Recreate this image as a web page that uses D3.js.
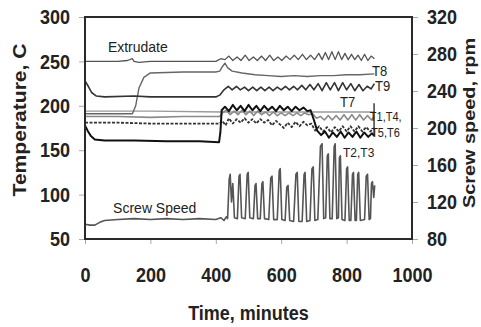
<!DOCTYPE html>
<html>
<head>
<meta charset="utf-8">
<script src="https://cdn.jsdelivr.net/npm/d3@7"></script>
<style>
  body { margin: 0; background: #fff; }
  svg { display: block; font-family: "Liberation Sans", Arial, sans-serif; }
</style>
</head>
<body>
<div id="chart"></div>
<script>
// Extruder temperatures and screw speed vs time
const xTicks = [0, 200, 400, 600, 800, 1000];
const tempTicks = [50, 100, 150, 200, 250, 300];
const speedTicks = [80, 120, 160, 200, 240, 280, 320];

const extrudate = [[0,250],[100,250],[130,251],[145,253],[150,250],[165,249],[200,250],[300,250],[400,250],[415,253],[428,252],
  [440,256],[452,251],[465,255],[477,251],[490,257],[502,251],[515,255],[527,251],[540,256],[552,251],[565,257],[577,251],
  [590,255],[602,251],[615,256],[627,252],[640,257],[652,252],[665,258],[677,252],[690,257],[702,252],[715,259],[725,252],
  [735,260],[745,252],[755,261],[765,252],[775,261],[785,252],[795,259],[805,252],[815,258],[825,252],[835,257],[845,251],
  [855,258],[865,251],[875,256],[885,253]];

const t8 = [[0,191],[100,191],[145,191],[155,200],[165,220],[180,232],[200,237],[300,238],[400,238],[412,239],[420,244],
  [428,248],[436,243],[450,239],[480,237],[520,235],[560,234],[600,233],[640,234],[680,233],[720,234],[760,234],[800,235],
  [840,235],[885,236]];

const t9 = [[0,228],[10,222],[20,215],[35,211],[60,210],[150,211],[200,210],[300,210],[400,210],[412,212],[425,218],
  [438,222],[450,218],[463,222],[475,218],[488,221],[500,217],[513,221],[525,217],[538,221],[550,217],[563,221],[575,217],
  [588,221],[600,218],[613,222],[625,218],[638,222],[650,218],[663,223],[675,218],[688,224],[700,218],[713,225],[725,217],
  [738,226],[750,218],[763,226],[775,217],[788,226],[800,218],[813,225],[825,217],[838,224],[850,217],[863,222],[875,219],
  [885,225]];

const t7 = [[0,194],[200,194],[420,193],[600,193],[780,193],[885,193]];

const t1t4 = [[0,188],[100,188],[200,187],[300,188],[412,188],[420,192],[432,195],[444,190],[456,194],[468,190],[480,195],
  [492,190],[504,194],[516,189],[528,194],[540,190],[552,193],[564,189],[576,193],[588,189],[600,192],[612,189],[624,192],
  [636,189],[648,192],[660,189],[672,192],[684,190],[696,191],[708,186],[720,188],[732,184],[744,189],[756,184],[768,189],
  [780,184],[792,190],[804,184],[816,190],[828,184],[840,190],[852,184],[864,189],[876,184],[885,188]];

const t5t6 = [[0,181],[100,181],[200,180],[300,180],[412,180],[420,183],[430,178],[440,186],[452,180],[464,185],[476,181],
  [488,186],[500,181],[512,185],[524,180],[536,185],[548,181],[560,184],[572,178],[584,183],[596,179],[608,175],[620,181],
  [632,176],[644,182],[656,177],[668,182],[680,178],[692,180],[704,172],[716,177],[728,171],[740,176],[752,170],[764,176],
  [776,171],[788,177],[800,171],[812,177],[824,171],[836,177],[848,171],[860,176],[872,171],[885,175]];

const t2t3 = [[0,178],[8,172],[18,166],[30,162],[60,161],[150,161],[250,160],[350,160],[410,159],[414,170],[418,195],
  [428,199],[440,194],[452,201],[464,195],[476,200],[488,194],[500,201],[512,195],[524,200],[536,194],[548,200],[560,195],
  [572,199],[584,194],[596,200],[608,195],[620,199],[632,194],[644,199],[656,195],[668,198],[680,194],[690,195],[700,184],
  [710,172],[722,167],[734,171],[746,164],[758,170],[770,165],[782,171],[794,164],[806,170],[818,165],[830,171],[842,164],
  [854,170],[866,165],[878,169],[885,166]];

const screwSpeed = [[0,96],[15,95],[30,95],[45,98],[60,100],[100,101],[150,102],[200,101],[250,102],[300,101],[350,102],
  [400,101],[415,103],[425,100],[432,104],[436,102],[441,145],[444,150],[448,120],[452,140],[457,103],[466,102],[471,148],
  [474,150],[479,103],[490,102],[496,150],[499,152],[504,103],[515,102],[520,138],[523,140],[528,102],[536,102],[541,140],
  [544,142],[549,102],[562,101],[568,146],[572,148],[577,101],[588,101],[594,154],[597,156],[602,101],[612,100],[617,136],
  [621,138],[626,100],[638,99],[645,150],[649,152],[654,99],[664,99],[670,150],[673,152],[678,99],[688,100],[694,156],
  [698,158],[703,100],[712,101],[720,180],[725,183],[730,102],[736,103],[741,170],[744,172],[749,102],[756,102],[762,180],
  [765,183],[770,102],[775,103],[778,168],[781,170],[786,101],[795,100],[800,156],[803,158],[808,100],[813,100],[818,150],
  [821,152],[826,100],[830,100],[834,150],[837,152],[842,100],[855,101],[860,148],[864,150],[869,101],[873,102],[876,140],
  [879,142],[883,125],[886,138]];

const width = 481, height = 327;
const margin = { top: 17, right: 69, bottom: 88, left: 85 };
const innerW = width - margin.left - margin.right;
const innerH = height - margin.top - margin.bottom;
const stretch = 1.17; // the scan is a bit taller than wide

const svg = d3.select("#chart").append("svg")
  .attr("width", width)
  .attr("height", height);

const g = svg.append("g")
  .attr("transform", `translate(${margin.left},${margin.top})`);

const x = d3.scaleLinear().domain([0, 1000]).range([0, innerW]);
const yT = d3.scaleLinear().domain([50, 300]).range([innerH, 0]);
const yS = d3.scaleLinear().domain([80, 320]).range([innerH, 0]);

// axes
function styleAxis(sel) {
  sel.select(".domain").remove();
  sel.selectAll(".tick line").attr("stroke", "#aaa");
  sel.selectAll(".tick text")
    .attr("fill", "#222")
    .style("font-size", "18px")
    .style("font-weight", "bold")
    .attr("transform", `scale(1,${stretch})`);
}

g.append("g")
  .attr("transform", `translate(0,${innerH})`)
  .call(d3.axisBottom(x).tickValues(xTicks).tickFormat(d3.format("d")).tickSize(5).tickPadding(19))
  .call(styleAxis);

g.append("g")
  .call(d3.axisLeft(yT).tickValues(tempTicks).tickFormat(d3.format("d")).tickSize(6).tickPadding(9))
  .call(styleAxis);

g.append("g")
  .attr("transform", `translate(${innerW},0)`)
  .call(d3.axisRight(yS).tickValues(speedTicks).tickFormat(d3.format("d")).tickSize(6).tickPadding(9))
  .call(styleAxis);

// series
const lineT = d3.line().x(d => x(d[0])).y(d => yT(d[1]));
const lineS = d3.line().x(d => x(d[0])).y(d => yS(d[1]));

const series = [
  { data: t7, color: "#9a9a9a", w: 1.4 },
  { data: t1t4, color: "#8a8a8a", w: 1.6 },
  { data: t5t6, color: "#333", w: 1.8, dash: "3,1.5" },
  { data: t2t3, color: "#111", w: 2 },
  { data: extrudate, color: "#555", w: 1.3 },
  { data: t8, color: "#666", w: 1.4 },
  { data: t9, color: "#333", w: 1.6 }
];

series.forEach(s => {
  g.append("path")
    .datum(s.data)
    .attr("fill", "none")
    .attr("stroke", s.color)
    .attr("stroke-width", s.w)
    .attr("stroke-dasharray", s.dash || null)
    .attr("stroke-linejoin", "round")
    .attr("d", lineT);
});

g.append("path")
  .datum(screwSpeed)
  .attr("fill", "none")
  .attr("stroke", "#555")
  .attr("stroke-width", 1.6)
  .attr("stroke-linejoin", "round")
  .attr("d", lineS);

// bracket at the end of the T1..T6 group
g.append("line")
  .attr("x1", x(884)).attr("x2", x(884))
  .attr("y1", yT(203)).attr("y2", yT(166))
  .attr("stroke", "#222")
  .attr("stroke-width", 1.3);

// frame
g.append("rect")
  .attr("width", innerW)
  .attr("height", innerH)
  .attr("fill", "none")
  .attr("stroke", "#2a2a2a")
  .attr("stroke-width", 2);

// in-plot labels
function label(px, py, txt, size) {
  g.append("text")
    .attr("transform", `translate(${px},${py}) scale(1,1.1)`)
    .attr("fill", "#222")
    .style("font-size", size + "px")
    .text(txt);
}
label(x(70), yT(260.6), "Extrudate", 14);
label(x(86), yS(108), "Screw Speed", 14);
label(x(878), yT(233.6), "T8", 13);
label(x(887), yT(216.7), "T9", 13);
label(x(780), yT(198.6), "T7", 13);
label(x(871), yT(182.9), "T1,T4,", 11);
label(x(875), yT(164.9), "T5,T6", 11);
label(x(789), yT(142.3), "T2,T3", 12);

// axis titles
svg.append("text")
  .attr("transform", `translate(${margin.left + innerW / 2},${320}) scale(1,${stretch})`)
  .attr("text-anchor", "middle")
  .attr("fill", "#222")
  .style("font-size", "18px")
  .style("font-weight", "bold")
  .text("Time, minutes");

svg.append("text")
  .attr("transform", `translate(26,120) scale(1,${stretch}) rotate(-90)`)
  .attr("text-anchor", "middle")
  .attr("fill", "#222")
  .style("font-size", "18px")
  .style("font-weight", "bold")
  .text("Temperature, C");

svg.append("text")
  .attr("transform", `translate(475,123) scale(1,${stretch}) rotate(-90)`)
  .attr("text-anchor", "middle")
  .attr("fill", "#222")
  .style("font-size", "17px")
  .style("font-weight", "bold")
  .text("Screw speed, rpm");
</script>
</body>
</html>
